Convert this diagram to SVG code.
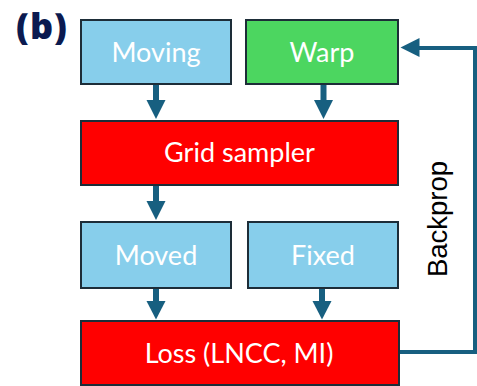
<svg xmlns="http://www.w3.org/2000/svg" width="477" height="386" viewBox="0 0 477 386">
  <defs>
    <style>
      .box { stroke: #1d2d38; stroke-width: 2; }
      .in { fill: #87ceeb; }
      .warp { fill: #4cd660; }
      .op { fill: #ff0000; }
      .lbl { font-family: Lato, "Open Sans", sans-serif; font-size: 27px; fill: #ffffff; text-anchor: middle; }
      .wire { stroke: #175f80; fill: none; }
      .head { fill: #175f80; }
    </style>
  </defs>

  <text x="16" y="39" font-family="'Open Sans', 'Noto Sans', sans-serif" font-weight="800" font-size="36" letter-spacing="1" fill="#0b1a50">(b)</text>

  <g id="connectors">
    <!-- downward data-flow arrows -->
    <g id="moving-to-grid">
      <line class="wire" x1="156" y1="85" x2="156" y2="102" stroke-width="6"/>
      <polygon class="head" points="146.5,100 165.5,100 156,119"/>
    </g>
    <g id="warp-to-grid">
      <line class="wire" x1="323.5" y1="85" x2="323.5" y2="102" stroke-width="6"/>
      <polygon class="head" points="314,100 333,100 323.5,119"/>
    </g>
    <g id="grid-to-moved">
      <line class="wire" x1="156" y1="186" x2="156" y2="203" stroke-width="6"/>
      <polygon class="head" points="146.5,201 165.5,201 156,220"/>
    </g>
    <g id="moved-to-loss">
      <line class="wire" x1="156" y1="289" x2="156" y2="303" stroke-width="6"/>
      <polygon class="head" points="146.5,301 165.5,301 156,319.5"/>
    </g>
    <g id="fixed-to-loss">
      <line class="wire" x1="322" y1="289" x2="322" y2="303" stroke-width="6"/>
      <polygon class="head" points="312.5,301 331.5,301 322,319.5"/>
    </g>
    <!-- gradient feedback loop -->
    <g id="backprop">
      <polyline class="wire" points="399,352 475,352 475,48 417,48" stroke-width="4"/>
      <polygon class="head" points="419.5,38 419.5,57 400.5,47.5"/>
    </g>
  </g>

  <g id="moving">
    <rect class="box in" x="81" y="20" width="150" height="64"/>
    <text class="lbl" x="156" y="62">Moving</text>
  </g>
  <g id="warp">
    <rect class="box warp" x="246" y="20" width="152" height="64"/>
    <text class="lbl" x="322" y="62">Warp</text>
  </g>
  <g id="grid-sampler">
    <rect class="box op" x="81" y="121" width="317" height="64"/>
    <text class="lbl" x="239.5" y="162">Grid sampler</text>
  </g>
  <g id="moved">
    <rect class="box in" x="81" y="222" width="150" height="66"/>
    <text class="lbl" x="156" y="265">Moved</text>
  </g>
  <g id="fixed">
    <rect class="box in" x="248" y="222" width="150" height="66"/>
    <text class="lbl" x="323" y="265">Fixed</text>
  </g>
  <g id="loss">
    <rect class="box op" x="81" y="321" width="318" height="64"/>
    <text class="lbl" x="239" y="363">Loss (LNCC, MI)</text>
  </g>

  <text transform="translate(447,219) rotate(-90)" text-anchor="middle" font-family="'Liberation Sans', Arial, sans-serif" font-size="27.5" fill="#000000">Backprop</text>
</svg>
